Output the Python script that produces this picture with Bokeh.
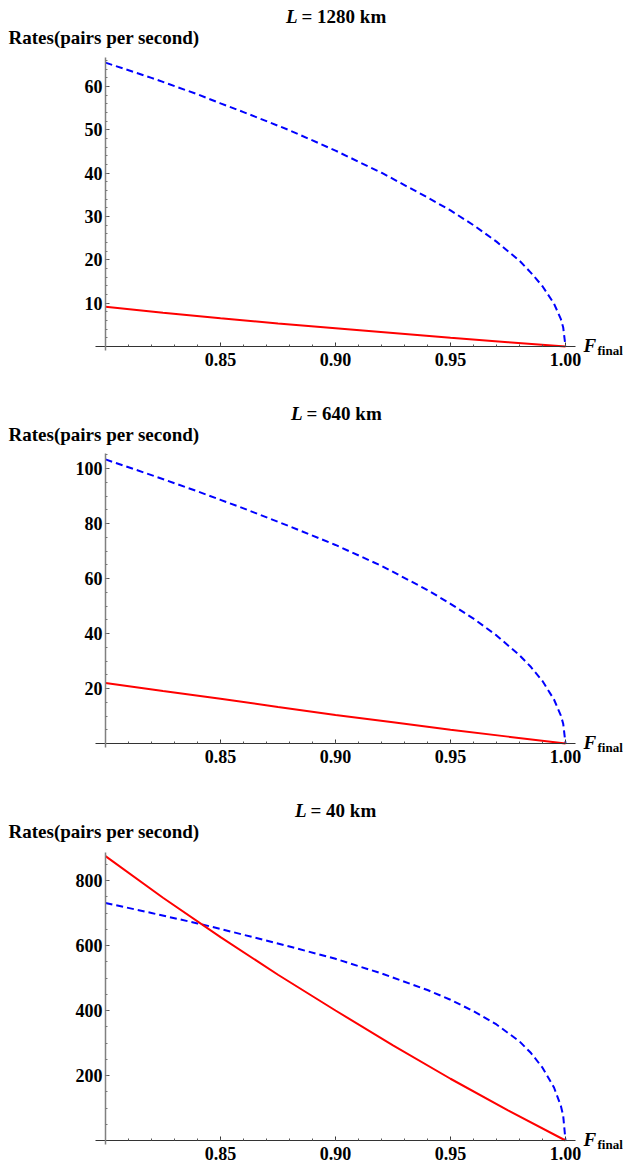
from bokeh.plotting import figure
from bokeh.models import Range1d, FixedTicker, PrintfTickFormatter, Label, LinearAxis
from bokeh.layouts import column
from bokeh.embed import file_html
from bokeh.resources import INLINE
import numpy as np

# ---------------- data ----------------
F_blue = [0.80, 0.82, 0.84, 0.85, 0.86, 0.88, 0.90, 0.92, 0.94, 0.95, 0.96,
          0.97, 0.98, 0.985, 0.99, 0.995, 0.998, 0.999, 1.0]
F_red = [0.80, 0.825, 0.85, 0.875, 0.90, 0.925, 0.95, 0.975, 1.0]

blue_1280 = [65.5, 62.0, 58.2, 56.1, 54.1, 49.9, 45.2, 40.1, 34.4, 31.4, 28.0,
             24.2, 19.8, 17.0, 13.9, 9.9, 6.3, 4.4, 0.0]
red_1280 = [9.2, 7.8, 6.5, 5.3, 4.2, 3.1, 2.0, 1.0, 0.0]

blue_640 = [103.3, 97.6, 91.7, 88.6, 85.5, 79.0, 72.2, 64.6, 55.8, 50.8, 45.4,
            39.3, 32.1, 27.8, 22.7, 16.0, 10.1, 7.2, 0.0]
red_640 = [22.0, 19.1, 16.3, 13.3, 10.4, 7.7, 5.0, 2.5, 0.0]

blue_40 = [731, 700, 668, 651, 633, 597, 559, 514, 463, 433, 398,
           357, 305, 269, 224, 163, 106, 76, 0]
red_40 = [875, 747, 626, 510, 400, 293, 190, 93, 0]

titles = ["= 1280 km", "= 640 km", "= 40 km"]
y_label = "Rates(pairs per second)"
x_ticks = [0.85, 0.90, 0.95, 1.00]
y_ticks = [[10, 20, 30, 40, 50, 60], [20, 40, 60, 80, 100], [200, 400, 600, 800]]
y_minor_step = [2, 5, 50]
y_axis_top = [66.8, 105.5, 887]

# ---------------- layout parameters (pixels) ----------------
W = 623
FONT = "Liberation Serif"
PX_PER_X = 2300.0          # px per unit of F
X0_PX = 105.0              # pixel column of F = 0.80
AXIS_PY = 346.0            # pixel row of the x axis inside each panel
heights = [397, 397, 369]
y_scale = [4.3333, 2.75, 0.325]   # px per unit of rate
title_L_px = [297, 302, 306]      # right edge of the italic L

xs = 0.80 - X0_PX / PX_PER_X
xe = xs + W / PX_PER_X


def px_x(px):
    return xs + px / PX_PER_X


def make_panel(i, blue, red):
    H = heights[i]
    sc = y_scale[i]
    ys = -(H - AXIS_PY) / sc
    ye = AXIS_PY / sc

    def py_y(py):
        return (AXIS_PY - py) / sc

    p = figure(width=W, height=H, output_backend="svg", toolbar_location=None,
               x_axis_type=None, y_axis_type=None,
               min_border=0, min_border_left=0, min_border_right=0,
               min_border_top=0, min_border_bottom=0,
               x_range=Range1d(xs, xe), y_range=Range1d(ys, ye))
    p.outline_line_color = None
    p.grid.visible = False
    p.background_fill_color = "white"
    p.border_fill_color = "white"

    p.line(F_blue, blue, line_color="#0000ff", line_width=2, line_dash="7 4")
    p.line(F_red, red, line_color="#ff0000", line_width=2)

    xa = LinearAxis(fixed_location=0,
                    bounds=(px_x(X0_PX - 10), px_x(X0_PX + 470)))
    xa.ticker = FixedTicker(ticks=x_ticks,
                            minor_ticks=list(np.round(np.arange(0.80, 1.0001, 0.01), 2)))
    xa.formatter = PrintfTickFormatter(format="%.2f")
    xa.axis_line_color = "#333333"
    xa.major_tick_line_color = "#333333"
    xa.minor_tick_line_color = "#555555"
    xa.major_tick_in = 4
    xa.major_tick_out = 0
    xa.minor_tick_in = 2
    xa.minor_tick_out = 0
    xa.major_label_standoff = 6
    xa.major_label_text_font = FONT
    xa.major_label_text_font_style = "bold"
    xa.major_label_text_font_size = "18px"
    xa.major_label_text_color = "black"
    p.add_layout(xa, "below")

    ya = LinearAxis(fixed_location=0.80, bounds=(py_y(AXIS_PY + 4), y_axis_top[i]))
    step = y_minor_step[i]
    ya.ticker = FixedTicker(ticks=y_ticks[i],
                            minor_ticks=list(np.arange(step, y_axis_top[i], step)))
    ya.formatter = PrintfTickFormatter(format="%d")
    ya.axis_line_color = "#808080"
    ya.axis_line_width = 1.5
    ya.major_tick_line_color = "#555555"
    ya.minor_tick_line_color = "#777777"
    ya.major_tick_in = 4
    ya.major_tick_out = 0
    ya.minor_tick_in = 2
    ya.minor_tick_out = 0
    ya.major_label_standoff = 3
    ya.major_label_text_font = FONT
    ya.major_label_text_font_style = "bold"
    ya.major_label_text_font_size = "18px"
    ya.major_label_text_color = "black"
    p.add_layout(ya, "left")

    # title  "L = ... km"
    p.add_layout(Label(x=px_x(title_L_px[i]), y=py_y(16), text="L",
                       text_align="right", text_baseline="middle",
                       text_font=FONT, text_font_style="bold italic",
                       text_font_size="19px", text_color="black"))
    p.add_layout(Label(x=px_x(title_L_px[i] + 4), y=py_y(16), text=titles[i],
                       text_align="left", text_baseline="middle",
                       text_font=FONT, text_font_style="bold",
                       text_font_size="19px", text_color="black"))
    # y label
    p.add_layout(Label(x=px_x(8), y=py_y(37), text=y_label,
                       text_align="left", text_baseline="middle",
                       text_font=FONT, text_font_style="bold",
                       text_font_size="19px", text_color="black"))
    # x label  F_final
    p.add_layout(Label(x=px_x(583), y=py_y(345), text="F",
                       text_align="left", text_baseline="middle",
                       text_font=FONT, text_font_style="bold italic",
                       text_font_size="19px", text_color="black"))
    p.add_layout(Label(x=px_x(597), y=py_y(350), text="final",
                       text_align="left", text_baseline="middle",
                       text_font=FONT, text_font_style="bold",
                       text_font_size="13px", text_color="black"))
    return p


p1 = make_panel(0, blue_1280, red_1280)
p2 = make_panel(1, blue_640, red_640)
p3 = make_panel(2, blue_40, red_40)

layout = column(p1, p2, p3, spacing=0)
open("out.html", "w").write(file_html(layout, INLINE))
